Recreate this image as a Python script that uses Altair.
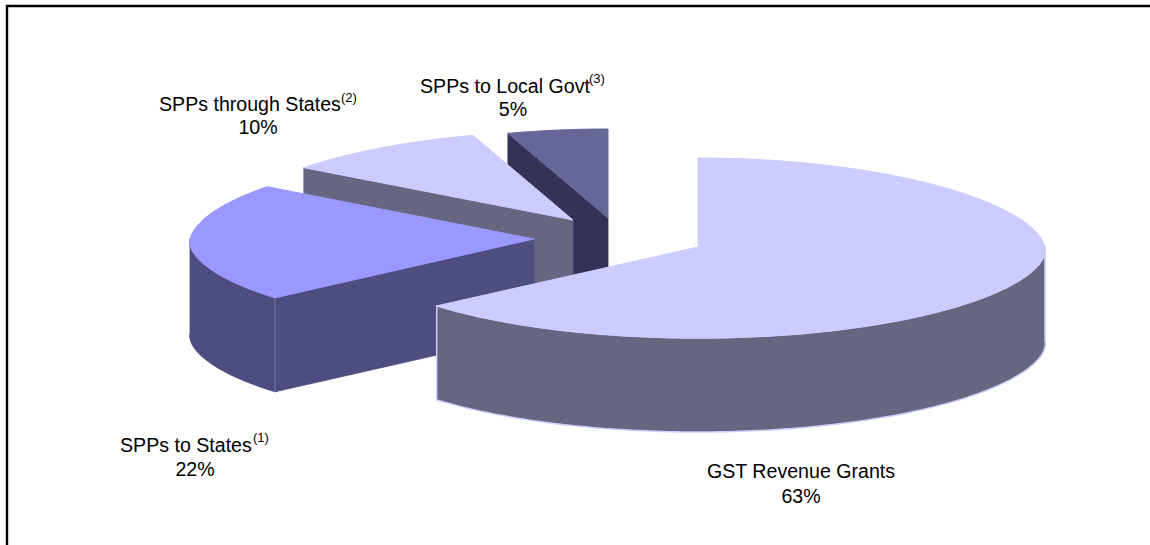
import math
import altair as alt
import pandas as pd

# Outlay shares, in drawing order from 12 o'clock, clockwise
categories = ["GST Revenue Grants", "SPPs to States", "SPPs through States", "SPPs to Local Govt"]
shares = [63, 22, 10, 5]
notes = ["", "(1)", "(2)", "(3)"]
top_colors = ["#CCCCFF", "#9999FF", "#CCCCFF", "#666699"]
wall_colors = ["#666680", "#4D4D80", "#666680", "#333355"]

# Pie geometry in canvas units
RY_BACK, RY_FRONT, DEPTH = 89, 91, 94
KEYSTONE_BACK, KEYSTONE_FRONT, FRONT_FLATTEN = 0.07, 0.048, 1.15
hubs = [(698, 247), (534, 239), (573, 220), (608, 218)]
radii = [347, 344, 347, 347]

# Label placement: start of first line, its baseline, centre of the percentage line
label_pos = [(707, 478, 801, 503), (120, 452, 195, 476), (159, 111, 258, 134), (420, 93, 513, 116)]
note_pos = [None, (253, 442), (341, 102), (589, 83)]


def rim(i, deg):
    hub = hubs[i]
    t = math.radians(deg)
    u, v = math.sin(t), math.cos(t)
    if v > 0:
        return hub[0] + radii[i] * u * (1 - KEYSTONE_BACK * v), hub[1] - RY_BACK * v
    return hub[0] + radii[i] * u * (1 - KEYSTONE_FRONT * v), hub[1] + RY_FRONT * abs(v) ** FRONT_FLATTEN


def arc(i, a, b):
    n = max(2, int(abs(b - a)) + 1)
    return [rim(i, a + (b - a) * k / (n - 1)) for k in range(n)]


def drop(points):
    return [(x, y + DEPTH) for x, y in points]


polys = []


def add(points, fill, stroke=None, width=1):
    polys.append(dict(points=points, fill=fill, stroke=stroke or fill, width=width))


# Slice angles from the shares
edges = [0]
for s in shares:
    edges.append(edges[-1] + s * 3.6)

# Back slices first so the nearer ones cover them
for i in [3, 2, 1, 0]:
    a, b = edges[i], edges[i + 1]
    hub = hubs[i]
    if i == 0:
        outer = arc(i, 90, b)
        add(outer + drop(outer)[::-1], wall_colors[i], "#CCCCFF", 1.5)
    else:
        if i == 1:
            outer = arc(i, a, 270)
            add(outer + drop(outer)[::-1], wall_colors[i], wall_colors[i], 0.8)
        edge = [rim(i, a), hub]
        add(edge + drop(edge)[::-1], wall_colors[i], wall_colors[i], 0.8)
        if i == 1:
            # Faint seam where the curved wall meets the flat one
            corner = rim(i, a)
            add([corner, (corner[0], corner[1] + DEPTH)], wall_colors[i], "#6A6A9C", 0.8)
    add([hub] + arc(i, a, b), top_colors[i])

x_scale = alt.Scale(domain=[0, 1150])
y_scale = alt.Scale(domain=[0, 545], reverse=True)

layers = []
for p in polys:
    pts = p["points"] + [p["points"][0]]
    df = pd.DataFrame({"px": [q[0] for q in pts], "py": [q[1] for q in pts], "k": range(len(pts))})
    layers.append(
        alt.Chart(df)
        .mark_line(fill=p["fill"], stroke=p["stroke"], strokeWidth=p["width"], strokeJoin="round", clip=False)
        .encode(
            x=alt.X("px:Q", scale=x_scale, axis=None),
            y=alt.Y("py:Q", scale=y_scale, axis=None),
            order="k:Q",
        )
    )

# Frame along the top and left of the canvas
frame = pd.DataFrame({"x": [6, 7], "x2": [1150, 7], "y": [6, 5], "y2": [6, 545]})
layers.append(
    alt.Chart(frame)
    .mark_rule(color="black", strokeWidth=2.4)
    .encode(
        x=alt.X("x:Q", scale=x_scale, axis=None),
        x2="x2:Q",
        y=alt.Y("y:Q", scale=y_scale, axis=None),
        y2="y2:Q",
    )
)

rows = []
for i, name in enumerate(categories):
    lx, ly, cx, py = label_pos[i]
    rows.append(dict(t=name, x=lx, y=ly, size=19.6, align="left"))
    rows.append(dict(t=f"{shares[i]}%", x=cx, y=py, size=19.6, align="center"))
    if note_pos[i]:
        rows.append(dict(t=notes[i], x=note_pos[i][0], y=note_pos[i][1], size=13, align="left"))
text = pd.DataFrame(rows)

for (size, align), part in text.groupby(["size", "align"]):
    layers.append(
        alt.Chart(part)
        .mark_text(font="Liberation Sans", fontSize=size, align=align, baseline="alphabetic", color="black")
        .encode(
            x=alt.X("x:Q", scale=x_scale, axis=None),
            y=alt.Y("y:Q", scale=y_scale, axis=None),
            text="t:N",
        )
    )

chart = (
    alt.layer(*layers)
    .properties(width=1150, height=545, padding=0, autosize=alt.AutoSizeParams(type="none"), background="white")
    .configure_view(stroke=None)
)

chart.save("out.html", embed_options={"renderer": "svg", "actions": False})
